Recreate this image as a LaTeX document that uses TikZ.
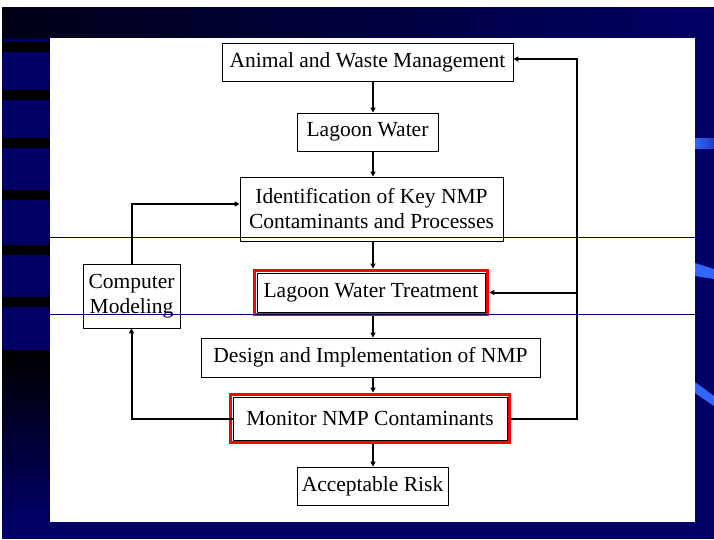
\documentclass[tikz,border=0pt]{standalone}
\usepackage{fontspec}
\setmainfont{Liberation Serif}
\usepackage{tikz}
\usetikzlibrary{arrows.meta, positioning, fit}

\definecolor{slidenavy}{RGB}{0,0,102}
\definecolor{slidedark}{RGB}{0,0,22}
\definecolor{slideblue}{RGB}{51,102,255}

\begin{document}
\begin{tikzpicture}
        [
            x=1pt, y=-1pt,
            box/.style={rectangle, draw=black, line width=0.8pt, fill=white, inner sep=0pt, align=center, font=\fontsize{21.5}{25}\selectfont},
            redframe/.style={rectangle, draw=red, line width=3pt, inner sep=2.5pt},
            flow/.style={draw=black, line width=2pt, -{Triangle[length=5pt,width=5pt]}},
            rule/.style={draw=slidenavy, line width=0.9pt},
        ]
        % slide background
        \useasboundingbox (0,0) rectangle (714,539);
        \fill[white] (0,0) rectangle (714,539);
        \fill[slidenavy] (2,7) rectangle (714,539);
        \shade[left color=slidedark, right color=slidenavy] (2,7) rectangle (714,38);
        \shade[top color=black, bottom color=slidenavy] (2,350) rectangle (50,522);
        \foreach \y in {42,90,138,190,245,297}
            \fill[black] (2,\y) rectangle (50,\y+10);
        \shade[left color=slideblue, right color=slideblue!60!slidenavy] (695,138) rectangle (714,148);
        \fill[slideblue] (695,263) -- (714,269) -- (714,279) -- (695,276) -- cycle;
        \fill[slideblue] (695,382) -- (714,396) -- (714,406) -- (695,393) -- cycle;
        \fill[white] (50,38) rectangle (695,522);

        % flow chart
        \node[box, minimum width=291pt, minimum height=38pt] (anim) at (367.5,62) {Animal and Waste Management};
        \node[box, minimum width=141pt, minimum height=38pt] (lagoon) at (367.5,132) {Lagoon Water};
        \node[box, minimum width=263pt, minimum height=64pt] (ident) at (371.5,209) {Identification of Key NMP\\Contaminants and Processes};
        \node[box, minimum width=97pt, minimum height=64pt] (model) at (131.5,296) {Computer\\Modeling};
        \node[box, minimum width=228pt, minimum height=39pt] (treat) at (371,292.5) {Lagoon Water Treatment};
        \node[box, minimum width=339pt, minimum height=39pt] (design) at (370.5,357.5) {Design and Implementation of NMP};
        \node[box, minimum width=274pt, minimum height=43pt] (monitor) at (370,418.5) {Monitor NMP Contaminants};
        \node[box, minimum width=151pt, minimum height=38pt] (risk) at (372.5,486) {Acceptable Risk};
        \node[redframe, fit=(treat)] (treatf) {};
        \node[redframe, fit=(monitor)] (monitorf) {};

        \coordinate (spine) at (373,0);
        \coordinate (rtop) at (577,59);
        \draw[flow] (anim.south -| spine) -- (lagoon.north -| spine);
        \draw[flow] (lagoon.south -| spine) -- (ident.north -| spine);
        \draw[flow] (ident.south -| spine) -- (treatf.north -| spine);
        \draw[flow] (treatf.south -| spine) -- (design.north -| spine);
        \draw[flow] (design.south -| spine) -- (monitorf.north -| spine);
        \draw[flow] (monitorf.south -| spine) -- (risk.north -| spine);

        % feedback loops
        \draw[flow] (monitorf.east) -| (rtop) -- (rtop -| anim.east);
        \draw[flow] (treatf.east -| rtop) -- (treatf.east);
        \draw[flow] (monitor.west) -| (model.south);
        \draw[flow] (model.north) |- ([yshift=5pt]ident.west);

        \draw[rule] (50,237) -- (695,237);
        \draw[rule] (50,314) -- (695,314);
      \end{tikzpicture}
\end{document}
